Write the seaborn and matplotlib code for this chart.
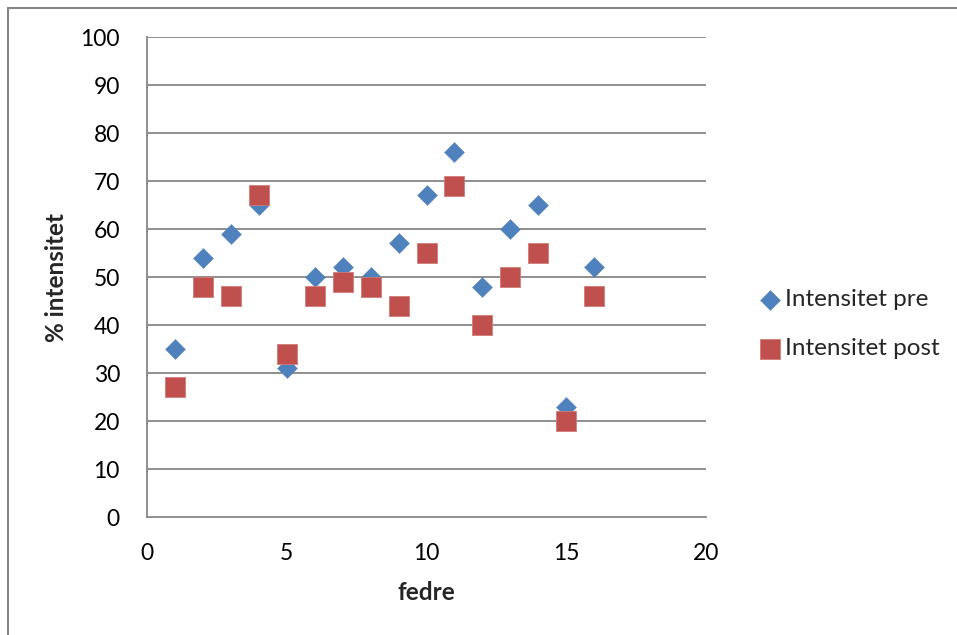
import matplotlib
matplotlib.use("Agg")
import matplotlib.pyplot as plt
import seaborn as sns
import pandas as pd
from matplotlib.lines import Line2D

fedre = list(range(1, 17))
pre = [35, 54, 59, 65, 31, 50, 52, 50, 57, 67, 76, 48, 60, 65, 23, 52]
post = [27, 48, 46, 67, 34, 46, 49, 48, 44, 55, 69, 40, 50, 55, 20, 46]
series_names = ["Intensitet pre", "Intensitet post"]
x_ticks = [0, 5, 10, 15, 20]
y_ticks = list(range(0, 101, 10))

sns.set_theme(style="white")
plt.rcParams["font.family"] = ["Lato", "DejaVu Sans"]

fig = plt.figure(figsize=(9.57, 6.35), dpi=100)
ax = fig.add_axes([147 / 957, 1 - 517 / 635, (706 - 147) / 957, (517 - 37) / 635])

df_pre = pd.DataFrame({"x": fedre, "y": pre})
df_post = pd.DataFrame({"x": fedre, "y": post})

sns.scatterplot(data=df_pre, x="x", y="y", marker="D", s=104, color="#4F81BD",
                edgecolor="#4F81BD", linewidth=0.3, label=series_names[0], ax=ax, zorder=3)
sns.scatterplot(data=df_post, x="x", y="y", marker="s", s=200, color="#C0504D",
                edgecolor="#D07B78", linewidth=0.6, label=series_names[1], ax=ax, zorder=4)

ax.set_xlim(0, 20)
ax.set_ylim(0, 100)
ax.set_xticks(x_ticks)
ax.set_yticks(y_ticks)
ax.grid(False)
for yv in y_ticks[1:]:
    ax.axhline(yv, color="#868686", lw=1.3, zorder=1)

for side in ["top", "right"]:
    ax.spines[side].set_visible(False)
for side in ["left", "bottom"]:
    ax.spines[side].set_color("#868686")
    ax.spines[side].set_linewidth(1.3)

ax.tick_params(axis="both", which="major", direction="out", length=5.5, width=1.3,
               color="#868686", labelsize=16.5, labelcolor="black")
ax.tick_params(axis="y", pad=14)
ax.tick_params(axis="x", pad=13.5)

ax.set_xlabel("fedre", fontsize=17.5, fontweight="bold")
ax.set_ylabel("% intensitet", fontsize=17.5, fontweight="bold")
ax.xaxis.set_label_coords(0.5, (517 - 592) / 480)
ax.xaxis.label.set_verticalalignment("center")
ax.yaxis.set_label_coords((57 - 147) / 559, 0.5)
ax.yaxis.label.set_verticalalignment("center")

leg = ax.legend(loc="center left", bbox_to_anchor=(746 / 957, 1 - 324 / 635),
                bbox_transform=fig.transFigure, frameon=False, fontsize=17.5,
                labelspacing=1.15, handletextpad=0.0, borderaxespad=0, handlelength=1.2)

# chart area border (left and top visible)
fig.add_artist(Line2D([8 / 957, 8 / 957], [0, 1 - 8 / 635], transform=fig.transFigure,
                      color="#868686", lw=1.5))
fig.add_artist(Line2D([8 / 957, 1], [1 - 8 / 635, 1 - 8 / 635], transform=fig.transFigure,
                      color="#868686", lw=1.5))

fig.savefig("out.png", dpi=100, facecolor="white")
